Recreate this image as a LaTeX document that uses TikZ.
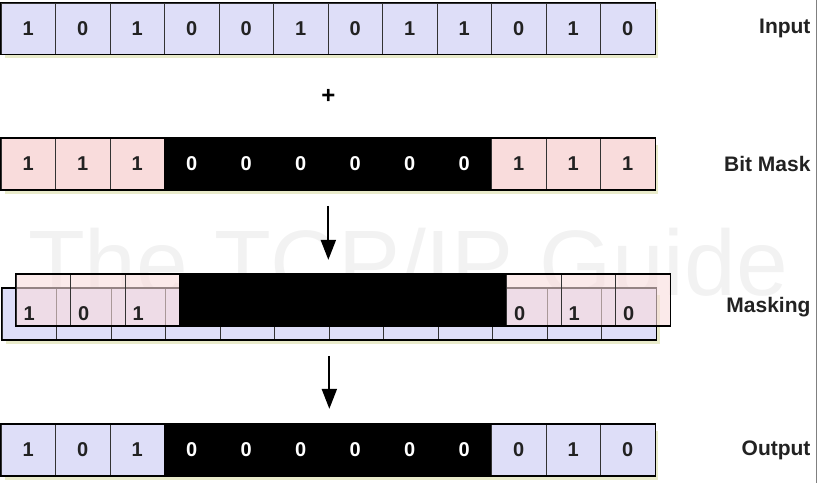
\documentclass[tikz,border=0pt]{standalone}
\usepackage{fontspec}
\setmainfont{Liberation Sans}
\usepackage{xcolor}
\usetikzlibrary{positioning,calc,arrows.meta}

\definecolor{cellblue}{HTML}{DEDEF8}
\definecolor{cellpink}{HTML}{F9DCDC}
\definecolor{shadowc}{HTML}{E9EBCB}
\definecolor{digitc}{HTML}{222222}

\tikzset{
  bitcell/.style={draw=black!80, line width=0.7pt, minimum width=54.5pt, minimum height=51pt,
    inner sep=0pt, font=\bfseries\fontsize{20}{20}\selectfont, text=digitc},
  bluecell/.style={bitcell, fill=cellblue},
  pinkcell/.style={bitcell, fill=cellpink},
  blackcell/.style={bitcell, draw=black, fill=black, text=white},
  overcell/.style={bitcell, fill=cellpink, fill opacity=0.6},
  bitval/.style={font=\bfseries\fontsize{20}{20}\selectfont, text=digitc, inner sep=0pt},
  rowframe/.style={draw=black, line width=1.6pt},
  rowshadow/.style={fill=shadowc},
  rowlabel/.style={anchor=east, font=\bfseries\fontsize{21}{21}\selectfont, text=digitc},
  flowarrow/.style={line width=2pt, -{Triangle[width=15pt,length=20pt]}},
  watermark/.style={font=\fontsize{93}{93}\selectfont, text=black!5}
}

\begin{document}
\begin{tikzpicture}[x=1pt,y=-1pt]
    \useasboundingbox (0,0) rectangle (819,483);
    \node[watermark] (wm) at (408,262) {The TCP/IP Guide};

    % Input: 1 0 1 0 0 1 0 1 1 0 1 0
    \fill[rowshadow] (5,9) rectangle (658,58);
    \foreach \i/\b in {1/1,2/0,3/1,4/0,5/0,6/1,7/0,8/1,9/1,10/0,11/1,12/0}
        \node[bluecell] (in\i) at ({1+54.5*(\i-0.5)},28.5) {\b};
    \draw[rowframe] (in1.north west) rectangle (in12.south east);
    \node[rowlabel] (lblInput) at (814,28) {Input};

    % Bit Mask: 1 1 1 0 0 0 0 0 0 1 1 1
    \fill[rowshadow] (5,145) rectangle (658,194);
    \foreach \i/\b/\s in {1/1/pinkcell,2/1/pinkcell,3/1/pinkcell,4/0/blackcell,5/0/blackcell,6/0/blackcell,
                          7/0/blackcell,8/0/blackcell,9/0/blackcell,10/1/pinkcell,11/1/pinkcell,12/1/pinkcell}
        \node[\s] (bm\i) at ({1+54.5*(\i-0.5)},164) {\b};
    \draw[rowframe] (bm1.north west) rectangle (bm12.south east);
    \node[rowlabel] (lblMask) at (814,164) {Bit Mask};

    \node[font=\bfseries\fontsize{24}{24}\selectfont] (plus) at ($(in6.south east)!0.5!(bm6.north east)$) {+};

    \coordinate (arrAtop) at ($(bm6.south east)+(0,16)$);
    \coordinate (arrAend) at ($(bm6.south east)+(0,70)$);
    \draw[flowarrow] (arrAtop) -- (arrAend);

    % Masking: mask laid over the input
    \fill[rowshadow] (6,295) rectangle (660,344);
    \foreach \i in {1,...,12}
        \node[bluecell] (mkB\i) at ({2+54.5*(\i-0.5)},314) {};
    \draw[rowframe] (mkB1.north west) rectangle (mkB12.south east);
    \foreach \i/\s in {1/overcell,2/overcell,3/overcell,4/blackcell,5/blackcell,6/blackcell,
                       7/blackcell,8/blackcell,9/blackcell,10/overcell,11/overcell,12/overcell}
        \node[\s] (mkA\i) at ({16+54.5*(\i-0.5)},300) {};
    \draw[rowframe] (mkA1.north west) rectangle (mkA12.south east);
    \foreach \i/\b in {1/1,2/0,3/1,10/0,11/1,12/0}
        \node[bitval] (mkv\i) at (mkB\i) {\b};
    \node[rowlabel] (lblMasking) at (814,307) {Masking};

    \coordinate (arrBtop) at ($(mkB6.south east)+(0,16)$);
    \coordinate (arrBend) at ($(mkB6.south east)+(0,69)$);
    \draw[flowarrow] (arrBtop) -- (arrBend);

    % Output: 1 0 1 0 0 0 0 0 0 0 1 0
    \fill[rowshadow] (5,431) rectangle (658,480);
    \foreach \i/\b/\s in {1/1/bluecell,2/0/bluecell,3/1/bluecell,4/0/blackcell,5/0/blackcell,6/0/blackcell,
                          7/0/blackcell,8/0/blackcell,9/0/blackcell,10/0/bluecell,11/1/bluecell,12/0/bluecell}
        \node[\s] (out\i) at ({1+54.5*(\i-0.5)},450) {\b};
    \draw[rowframe] (out1.north west) rectangle (out12.south east);
    \node[rowlabel] (lblOutput) at (814,450) {Output};

    \draw[black!50, line width=1pt] (816.5,0) -- (816.5,483);
\end{tikzpicture}
\end{document}
